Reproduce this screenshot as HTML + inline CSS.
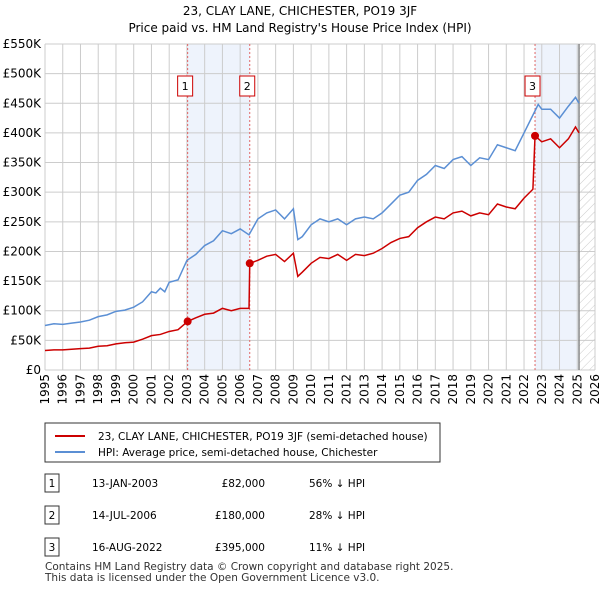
<!DOCTYPE html>
<html><head><meta charset="utf-8"><style>
body{margin:0;background:#fff;font-family:"Liberation Sans","DejaVu Sans",sans-serif;}
svg text{font-family:"DejaVu Sans","Liberation Sans",sans-serif;}
</style></head><body>
<svg id="c" width="600" height="590" xmlns="http://www.w3.org/2000/svg">
<defs><pattern id="h" width="6" height="6" patternUnits="userSpaceOnUse" patternTransform="rotate(45)"><line x1="0" y1="0" x2="0" y2="6" stroke="#ccc" stroke-width="1"/></pattern></defs>
<text x="300" y="15" text-anchor="middle" font-size="12">23, CLAY LANE, CHICHESTER, PO19 3JF</text>
<text x="300" y="32" text-anchor="middle" font-size="12">Price paid vs. HM Land Registry's House Price Index (HPI)</text>
<g id="plot"></g>
<rect x="45" y="423" width="395" height="39" fill="#fff" stroke="#333"/>
<line x1="55" y1="436" x2="85" y2="436" stroke="#cc0000" stroke-width="2"/>
<text x="98" y="440" font-size="10.5">23, CLAY LANE, CHICHESTER, PO19 3JF (semi-detached house)</text>
<line x1="55" y1="452" x2="85" y2="452" stroke="#5b8fd4" stroke-width="2"/>
<text x="98" y="456" font-size="10.5">HPI: Average price, semi-detached house, Chichester</text>
<g id="tbl" font-size="10.5"></g>
<text x="45" y="570" font-size="10.5" fill="#333">Contains HM Land Registry data © Crown copyright and database right 2025.</text>
<text x="45" y="581" font-size="10.5" fill="#333">This data is licensed under the Open Government Licence v3.0.</text>
</svg>
<script>
const yTicks=[0,50,100,150,200,250,300,350,400,450,500,550];
const years=[1995,1996,1997,1998,1999,2000,2001,2002,2003,2004,2005,2006,2007,2008,2009,2010,2011,2012,2013,2014,2015,2016,2017,2018,2019,2020,2021,2022,2023,2024,2025,2026];
const hpiT=[1995,1995.5,1996,1996.5,1997,1997.5,1998,1998.5,1999,1999.5,2000,2000.5,2001,2001.25,2001.5,2001.75,2002,2002.5,2003,2003.5,2004,2004.5,2005,2005.5,2006,2006.5,2007,2007.5,2008,2008.5,2009,2009.25,2009.5,2010,2010.5,2011,2011.5,2012,2012.5,2013,2013.5,2014,2014.5,2015,2015.5,2016,2016.5,2017,2017.5,2018,2018.5,2019,2019.5,2020,2020.5,2021,2021.5,2022,2022.5,2022.8,2023,2023.5,2024,2024.5,2024.9,2025.1];
const hpiV=[75,78,77,79,81,84,90,93,99,101,106,115,132,130,138,132,148,152,185,195,210,218,235,230,238,228,255,265,270,255,272,220,225,245,255,250,255,245,255,258,255,265,280,295,300,320,330,345,340,355,360,345,358,355,380,375,370,400,430,448,440,440,425,445,460,450];
const ppT=[1995,1995.5,1996,1996.5,1997,1997.5,1998,1998.5,1999,1999.5,2000,2000.5,2001,2001.5,2002,2002.5,2003.04,2003.5,2004,2004.5,2005,2005.5,2006,2006.5,2006.54,2007,2007.5,2008,2008.5,2009,2009.25,2009.5,2010,2010.5,2011,2011.5,2012,2012.5,2013,2013.5,2014,2014.5,2015,2015.5,2016,2016.5,2017,2017.5,2018,2018.5,2019,2019.5,2020,2020.5,2021,2021.5,2022,2022.5,2022.62,2023,2023.5,2024,2024.5,2024.9,2025.1];
const ppV=[33,34,34,35,36,37,40,41,44,46,47,52,58,60,65,68,82,88,94,96,104,100,104,104,180,185,192,195,183,197,158,165,180,190,188,195,185,195,193,197,205,215,222,225,240,250,258,255,265,268,260,265,262,280,275,272,290,305,395,385,390,375,390,410,400];
const saleT=[2003.04,2006.54,2022.62];
const saleV=[82,180,395];
const saleLbl=["1","2","3"];
const rows=[["1","13-JAN-2003","£82,000","56% ↓ HPI"],["2","14-JUL-2006","£180,000","28% ↓ HPI"],["3","16-AUG-2022","£395,000","11% ↓ HPI"]];
const NS="http://www.w3.org/2000/svg";
const X=t=>45+(t-1995)*550/31, Y=v=>370-v*326/550;
const g=document.getElementById('plot');
function mk(tag,a,p){const e=document.createElementNS(NS,tag);for(const k in a)e.setAttribute(k,a[k]);(p||g).appendChild(e);return e;}
let e;
e=mk('rect',{x:X(2003.04),y:44,width:X(2006.54)-X(2003.04),height:326,fill:'#eef3fc'});


e=mk('rect',{x:X(2022.62),y:44,width:X(2025.1)-X(2022.62),height:326,fill:'#eef3fc'});


e=mk('rect',{x:X(2025.1),y:44,width:595-X(2025.1),height:326,fill:'url(#h)'});


yTicks.forEach(v=>{
 e=mk('line',{x1:45,x2:595,y1:Y(v),y2:Y(v),stroke:'#ccc'});
 
 
 e=mk('text',{x:41,y:Y(v)+4,'text-anchor':'end','font-size':12});
 e.textContent=v==0?'£0':'£'+v+'K';
 
 
});
years.forEach(y=>{
 e=mk('line',{x1:X(y),x2:X(y),y1:44,y2:370,stroke:'#ccc'});
 
 
 e=mk('text',{transform:`translate(${X(y)+4},374) rotate(-90)`,'text-anchor':'end','font-size':12});
 e.textContent=y;
 
 
});
e=mk('line',{x1:X(2025.1),x2:X(2025.1),y1:44,y2:370,stroke:'#888','stroke-width':1.5});


saleT.forEach((t,i)=>{
 e=mk('line',{x1:X(t),x2:X(t),y1:44,y2:370,stroke:'#e06666','stroke-dasharray':'2,2'});
 
 
 e=mk('rect',{x:X(t)-10,y:76,width:15,height:20,fill:'#fff',stroke:'#c00'});
 
 
 e=mk('text',{x:X(t)-2.5,y:90,'text-anchor':'middle','font-size':11});
 e.textContent=saleLbl[i];
 
 
});
e=mk('polyline',{points:hpiT.map((t,i)=>X(t)+','+Y(hpiV[i])).join(' '),fill:'none',stroke:'#5b8fd4','stroke-width':1.5});


e=mk('polyline',{points:ppT.map((t,i)=>X(t)+','+Y(ppV[i])).join(' '),fill:'none',stroke:'#cc0000','stroke-width':1.5});


saleT.forEach((t,i)=>{
 e=mk('circle',{cx:X(t),cy:Y(saleV[i]),r:4,fill:'#cc0000'});
 
 
});
const tb=document.getElementById('tbl');
rows.forEach((r,i)=>{
 const y=486+i*32;
 e=mk('rect',{x:45,y:y-12,width:14,height:18,fill:'#fff',stroke:'#333'},tb);
 
 
 e=mk('text',{x:52,y:y+1,'text-anchor':'middle'},tb);e.textContent=r[0];
 
 
 e=mk('text',{x:92,y:y+1},tb);e.textContent=r[1];
 
 
 e=mk('text',{x:265,y:y+1,'text-anchor':'end'},tb);e.textContent=r[2];
 
 
 e=mk('text',{x:309,y:y+1},tb);e.textContent=r[3];
 
 
});
</script>
</body></html>
